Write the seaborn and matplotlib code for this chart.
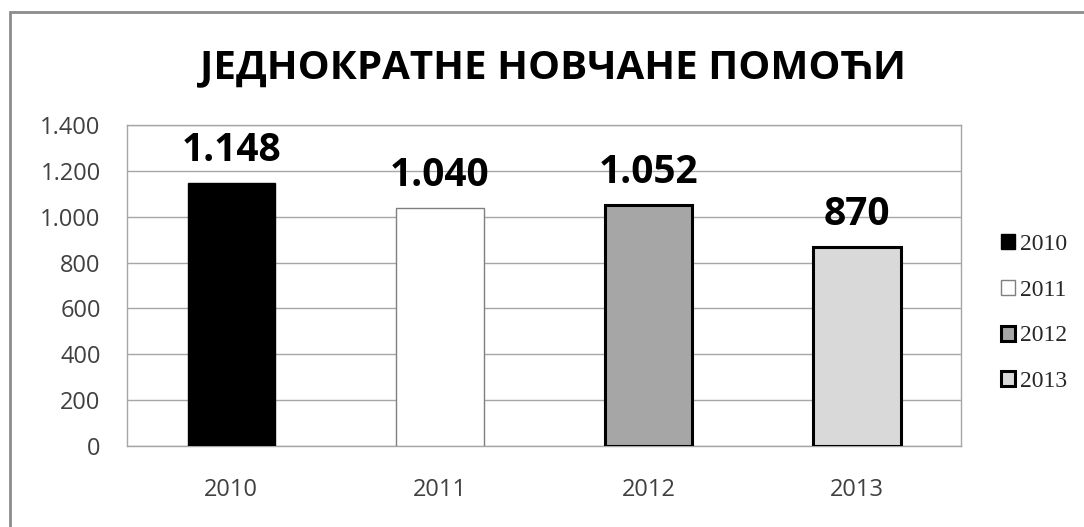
"""Recreate the single-payment bar chart (ЈЕДНОКРАТНЕ НОВЧАНЕ ПОМОЋИ)."""

import matplotlib

matplotlib.use("Agg")
import matplotlib.pyplot as plt
from matplotlib.patches import Patch, Rectangle
import pandas as pd
import seaborn as sns

TITLE = "ЈЕДНОКРАТНЕ НОВЧАНЕ ПОМОЋИ"
YEARS = ["2010", "2011", "2012", "2013"]
VALUES = [1148, 1040, 1052, 870]
Y_TICKS = [0, 200, 400, 600, 800, 1000, 1200, 1400]

FILLS = ["#000000", "#ffffff", "#a6a6a6", "#d9d9d9"]
EDGES = ["#000000", "#7f7f7f", "#000000", "#000000"]
EDGE_WIDTHS = [1.0, 1.0, 2.2, 2.2]
GRID_COLOR = "#a6a6a6"


def fmt(value: int) -> str:
    return f"{value:,}".replace(",", ".")


def main() -> None:
    sns.set_theme(style="white")
    plt.rcParams["font.family"] = ["Open Sans", "DejaVu Sans"]

    df = pd.DataFrame({"year": YEARS, "value": VALUES})

    fig = plt.figure(figsize=(10.84, 5.27), dpi=100)
    ax = fig.add_axes([0.1172, 0.1537, 0.7694, 0.609])

    sns.barplot(
        data=df,
        x="year",
        y="value",
        hue="year",
        palette=FILLS,
        width=0.42,
        legend=False,
        saturation=1,
        ax=ax,
        zorder=3,
    )
    for patch, edge, lw in zip(ax.patches, EDGES, EDGE_WIDTHS):
        patch.set_edgecolor(edge)
        patch.set_linewidth(lw)

    ax.set_ylim(0, 1400)
    ax.set_yticks(Y_TICKS)
    ax.set_yticklabels([fmt(t) for t in Y_TICKS])
    ax.set_xlim(-0.5, 3.5)
    ax.set_xlabel("")
    ax.set_ylabel("")
    ax.yaxis.grid(True, color=GRID_COLOR, linewidth=1.0, zorder=0)
    ax.set_axisbelow(True)
    ax.tick_params(axis="y", length=0, pad=19, labelsize=17, labelcolor="#404040")
    ax.tick_params(axis="x", length=0, pad=23, labelsize=17, labelcolor="#404040")
    for spine in ax.spines.values():
        spine.set_color(GRID_COLOR)
        spine.set_linewidth(1.0)

    for container in ax.containers:
        labels = [fmt(int(round(b.get_height()))) for b in container]
        ax.bar_label(
            container,
            labels=labels,
            padding=9,
            fontsize=28,
            fontweight="bold",
            color="#000000",
            zorder=5,
        )

    fig.text(
        0.510,
        0.871,
        TITLE,
        ha="center",
        va="center",
        fontsize=29,
        fontweight="bold",
        color="#000000",
    )

    handles = [
        Patch(facecolor=f, edgecolor=e, linewidth=lw, label=y)
        for f, e, lw, y in zip(FILLS, EDGES, EDGE_WIDTHS, YEARS)
    ]
    fig.legend(
        handles=handles,
        loc="center left",
        bbox_to_anchor=(0.904, 0.406),
        frameon=False,
        handlelength=0.6,
        handleheight=0.6,
        handletextpad=0.2,
        labelspacing=1.05,
        prop={"family": ["Liberation Serif", "DejaVu Serif"], "size": 17},
    )

    # outer chart frame (only the left and top edges show in the crop)
    fig.add_artist(
        Rectangle(
            (10 / 1084, -0.05),
            1.1,
            1.05 - 12 / 527,
            transform=fig.transFigure,
            fill=False,
            edgecolor="#8c8c8c",
            linewidth=2.0,
            clip_on=False,
        )
    )

    fig.savefig("out.png", dpi=100, facecolor="white")
    plt.close(fig)


if __name__ == "__main__":
    main()
